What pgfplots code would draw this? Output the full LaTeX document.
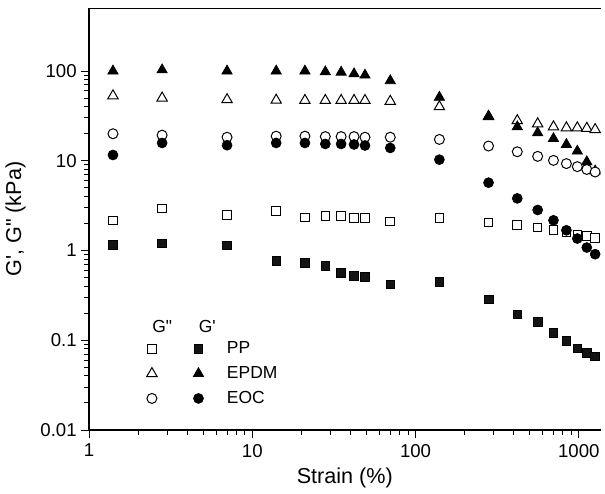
\documentclass[border=0pt]{standalone}
\usepackage{pgfplots}
\usepackage{pgfplotstable}
\pgfplotsset{compat=1.18}
\usepackage{fontspec}
\setmainfont{Liberation Sans}

% strain (%), G'' and G' (kPa) for PP, EPDM, EOC
\pgfplotstableread{
x     ppV   ppE    epV   epE   eoV   eoE
1.4   2.17  1.16   53    100   20    11.6
2.8   2.93  1.20   50    103   19.3  15.8
7     2.47  1.14   48    100   18.3  14.9
14    2.76  0.77   47.3  100   18.8  15.8
21    2.33  0.735  47    100   18.8  15.8
28    2.43  0.68   47    98    18.6  15.4
35    2.43  0.565  47    97    18.6  15.4
42    2.29  0.52   47    93    18.6  15.2
49    2.29  0.505  47    90    18.3  14.8
70    2.10  0.42   46    78    18.3  13.9
140   2.29  0.45   40    51    17.3  10.3
280   2.05  0.286  31    31.4  14.6  5.7
420   1.93  0.195  28    23.9  12.6  3.81
560   1.80  0.16   25.8  20.5  11.2  2.83
700   1.68  0.122  23.9  17.7  10.1  2.17
840   1.61  0.099  23.3  15.2  9.3   1.68
980   1.48  0.081  23.3  12.8  8.6   1.36
1120  1.46  0.073  23    9.75  8.0   1.08
1260  1.37  0.066  22.3  7.7   7.5   0.91
}\moduli

\begin{document}
\begin{tikzpicture}
\begin{loglogaxis}[
    scale only axis, width=307.8pt, height=253.8pt,
    xmin=1, xmax=1360, ymin=0.01, ymax=500,
    axis x line=box, axis y line=left, axis line style={-, line width=0.8pt},
    xtick pos=bottom, ytick pos=left,
    tick align=outside, major tick length=5pt, minor tick length=3pt,
    every tick/.style={black, line width=0.6pt},
    xtick={1,10,100,1000}, xticklabels={1,10,100,1000},
    ytick={0.01,0.1,1,10,100}, yticklabels={0.01,0.1,1,10,100},
    tick label style={font=\fontsize{11.2}{13}\selectfont},
    yticklabel style={xshift=1pt},
    label style={font=\fontsize{13}{15}\selectfont},
    /pgf/number format/assume math mode=true,
    xlabel={Strain (\%)}, ylabel={G\textquotesingle, G\textquotedbl\ (kPa)},
    xlabel style={yshift=0.8pt}, ylabel style={yshift=2pt},
    clip=false,
    legend columns=2,
    legend cell align=left,
    legend style={draw=none, fill=none, inner sep=0pt,
        at={(rel axis cs:0.112,0.262)}, anchor=north west,
        font=\fontsize{10.5}{12}\selectfont,
        row sep=2.2pt,
        /tikz/every odd column/.append style={column sep=4.8pt},
        /tikz/every even column/.append style={column sep=4pt}},
    legend image code/.code={\draw[#1] plot coordinates {(0.25cm,0cm)};},
]
\path (rel axis cs:0,1) -- ([yshift=5pt]rel axis cs:0,1);
\addlegendimage{legend image code/.code={\node[inner sep=0pt] at (0.25cm,0cm) {G\textquotedbl};}}
\addlegendentry{}
\addlegendimage{legend image code/.code={\node[inner sep=0pt] at (0.25cm,0cm) {G\textquotesingle};}}
\addlegendentry{}
\addplot[only marks, mark=square*, mark size=2.6pt, mark options={fill=white, line width=0.6pt}] table[x=x, y=ppV] {\moduli};
\addlegendentry{}
\addplot[only marks, mark=square*, mark size=2.6pt, fill=black!92] table[x=x, y=ppE] {\moduli};
\addlegendentry{PP}
\addplot[only marks, mark=triangle*, mark size=3.6pt, mark options={fill=white, line width=0.6pt}] table[x=x, y=epV] {\moduli};
\addlegendentry{}
\addplot[only marks, mark=triangle*, mark size=3.6pt, fill=black] table[x=x, y=epE] {\moduli};
\addlegendentry{EPDM}
\addplot[only marks, mark=*, mark size=3pt, mark options={fill=white, line width=0.6pt}] table[x=x, y=eoV] {\moduli};
\addlegendentry{}
\addplot[only marks, mark=*, mark size=3pt, fill=black] table[x=x, y=eoE] {\moduli};
\addlegendentry{EOC}
\end{loglogaxis}
\end{tikzpicture}
\end{document}
